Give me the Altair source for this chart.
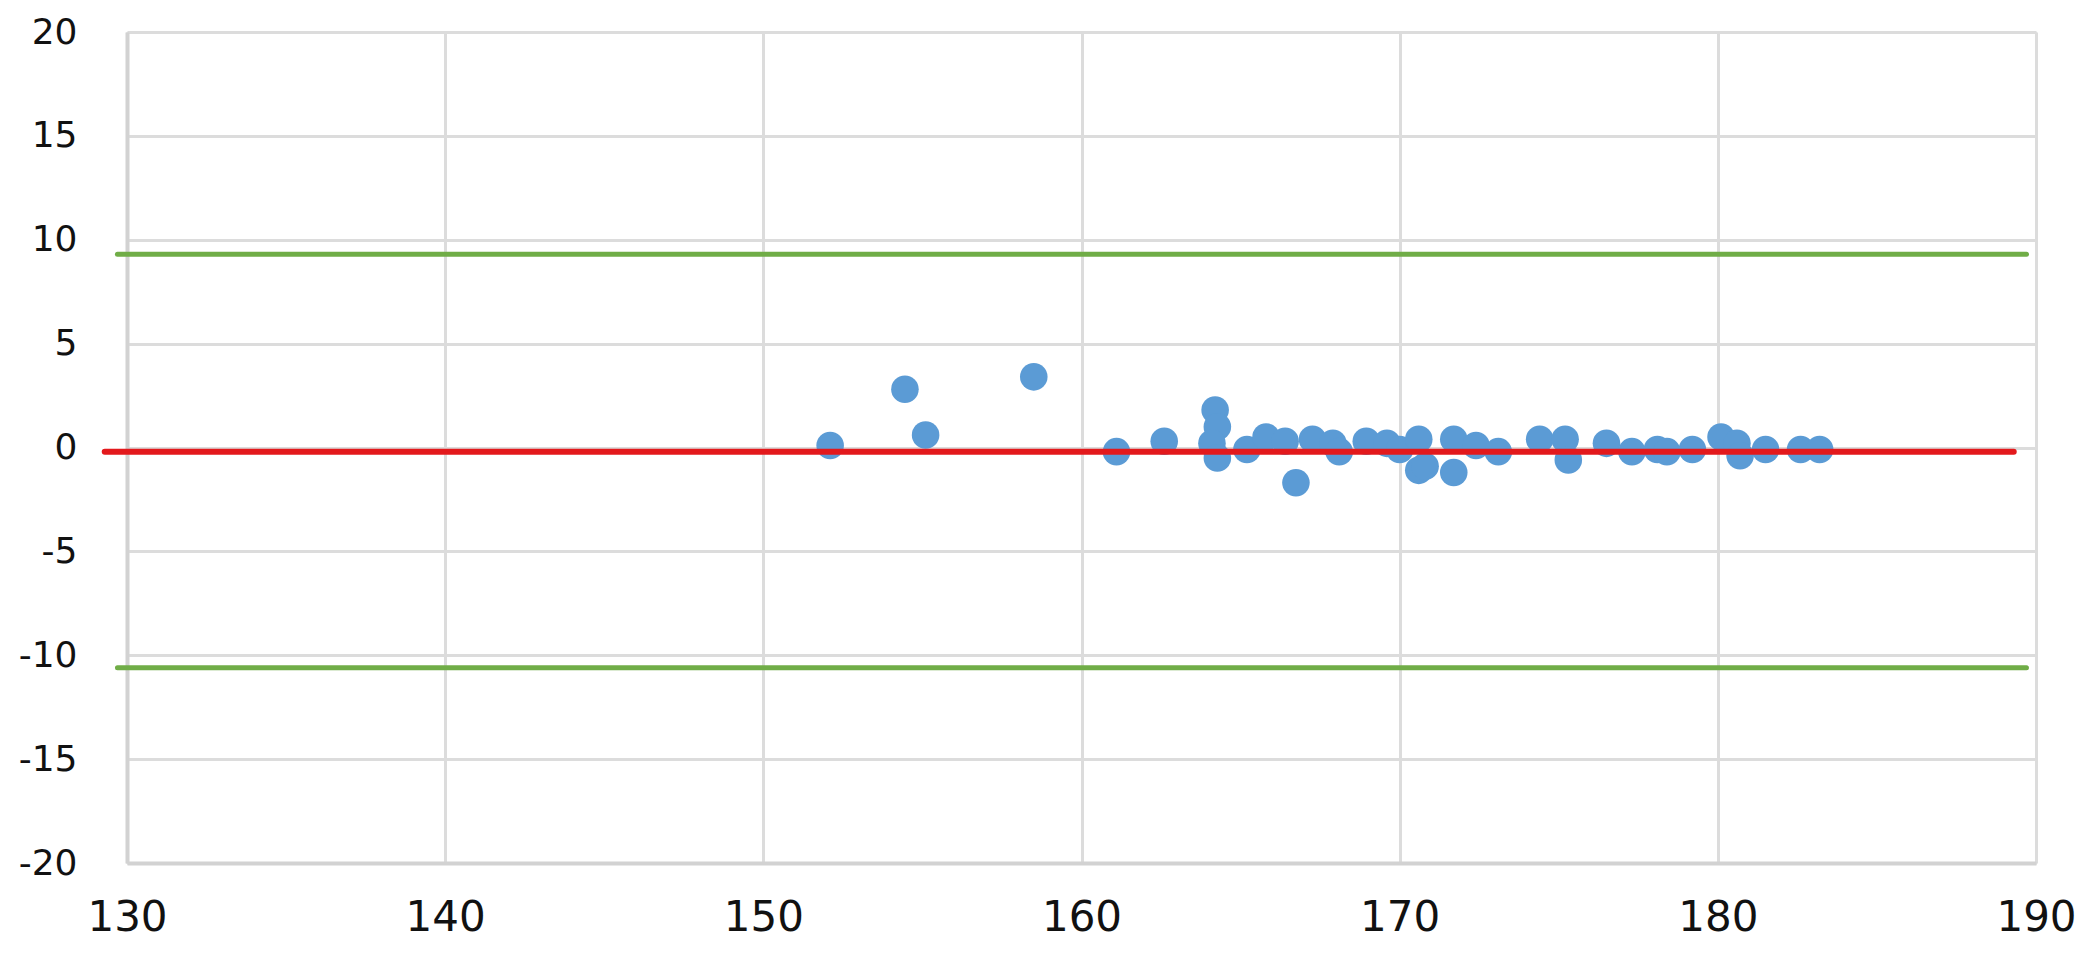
import altair as alt
import pandas as pd

# Scatter points (x = mean, y = difference)
px = [152.1, 154.45, 155.1, 158.5, 161.1, 162.6, 164.2, 164.27, 164.1, 164.27,
      165.2, 165.8, 166.4, 166.74, 167.26, 167.9, 168.1, 168.95, 169.6, 170.0,
      170.6, 170.6, 170.8, 171.7, 171.7, 172.4, 173.1, 174.4, 175.2, 175.3,
      176.5, 177.3, 178.1, 178.4, 179.2, 180.1, 180.6, 180.7, 181.5, 182.6, 183.2]
py = [0.1, 2.8, 0.6, 3.4, -0.2, 0.3, 1.8, 1.0, 0.2, -0.5,
      -0.1, 0.5, 0.3, -1.7, 0.4, 0.2, -0.2, 0.3, 0.2, -0.1,
      0.4, -1.1, -0.9, 0.4, -1.2, 0.1, -0.2, 0.4, 0.4, -0.6,
      0.2, -0.2, -0.1, -0.2, -0.1, 0.5, 0.2, -0.4, -0.1, -0.1, -0.1]

# Reference lines: mean and limits of agreement
line_y = [9.3, -0.2, -10.6]
line_x1 = [129.7, 129.3, 129.7]
line_x2 = [189.7, 189.3, 189.7]
line_color = ["#70ad47", "#e3191c", "#70ad47"]
line_width = [5, 6, 5]

x_ticks = [130, 140, 150, 160, 170, 180, 190]
y_ticks = [-20, -15, -10, -5, 0, 5, 10, 15, 20]

pts = pd.DataFrame({"x": px, "y": py})
lines = pd.DataFrame({"y": line_y, "x1": line_x1, "x2": line_x2,
                      "c": line_color, "w": line_width})

xs = alt.Scale(domain=[130, 190], nice=False, zero=False)
ys = alt.Scale(domain=[-20, 20], nice=False, zero=False)

xaxis = alt.Axis(values=x_ticks, title=None, grid=True, gridColor="#dcdcdc",
                 gridWidth=3, domainColor="#d2d2d2", domainWidth=4, ticks=False,
                 labelFont="DejaVu Sans", labelFontSize=42, labelColor="#111111",
                 labelPadding=34, labelFlush=False,
                 labelExpr="'' + datum.value")
yaxis = alt.Axis(values=y_ticks, title=None, grid=True, gridColor="#dcdcdc",
                 gridWidth=3, domainColor="#d2d2d2", domainWidth=4, ticks=False,
                 labelFont="DejaVu Sans", labelFontSize=36, labelColor="#111111",
                 labelPadding=50, labelFlush=False,
                 labelExpr="'' + datum.value")

points = alt.Chart(pts).mark_circle(size=760, opacity=1, color="#5b9bd5").encode(
    x=alt.X("x:Q", scale=xs, axis=xaxis),
    y=alt.Y("y:Q", scale=ys, axis=yaxis),
)

rules = alt.Chart(lines).mark_rule(strokeCap="round").encode(
    x=alt.X("x1:Q", scale=xs),
    x2="x2:Q",
    y=alt.Y("y:Q", scale=ys),
    color=alt.Color("c:N", scale=None),
    strokeWidth=alt.StrokeWidth("w:Q", scale=None),
)

chart = alt.layer(points, rules).properties(
    width=1909, height=831,
    autosize=alt.AutoSizeParams(type="none"),
    padding={"left": 119, "top": 24, "right": 40, "bottom": 80},
).configure_view(stroke="#dcdcdc", strokeWidth=3).configure(background="white")

chart.save("out.html", embed_options={"renderer": "svg", "actions": False})
